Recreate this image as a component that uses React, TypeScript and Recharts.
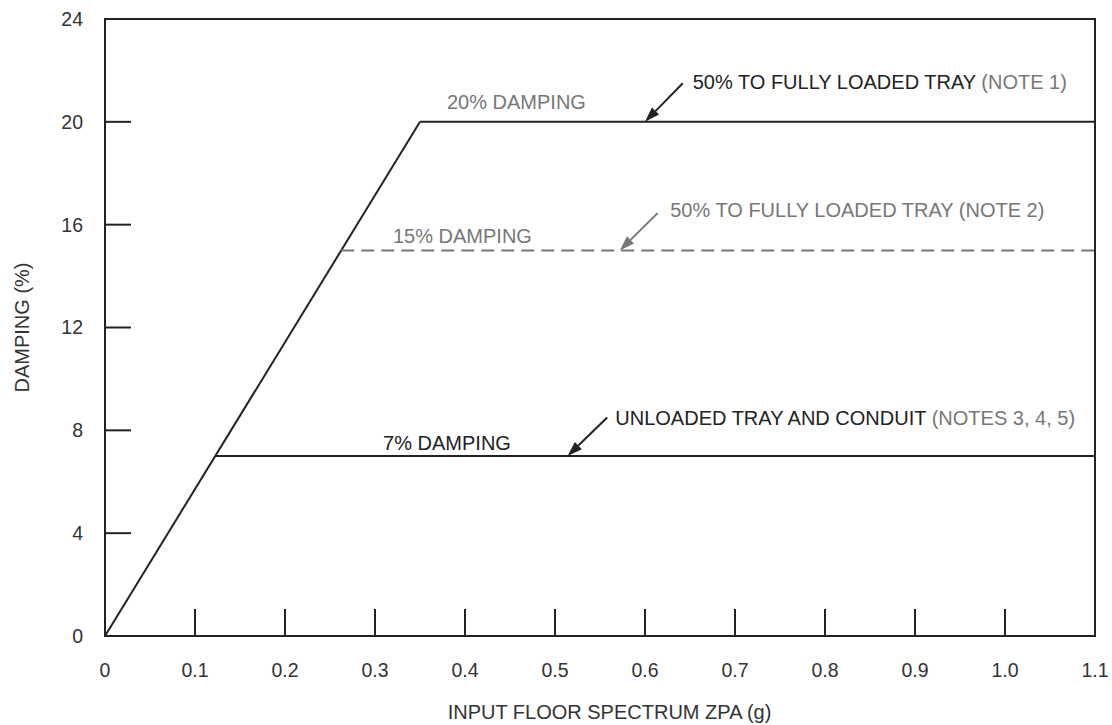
import React from "react";
import {
  LineChart,
  Line,
  XAxis,
  YAxis,
  ReferenceArea,
  ReferenceLine,
  ReferenceDot,
  Label,
} from "recharts";

const FONT = '"Liberation Sans", Arial, Helvetica, sans-serif';
const DARK = "#222";
const GREY = "#777";
const FS = 19.5;
const TITLE_FS = 20;

// axes
const xTicks = [0, 0.1, 0.2, 0.3, 0.4, 0.5, 0.6, 0.7, 0.8, 0.9, 1.0, 1.1];
const xTickLabels = ["0", "0.1", "0.2", "0.3", "0.4", "0.5", "0.6", "0.7", "0.8", "0.9", "1.0", "1.1"];
const yTicks = [0, 4, 8, 12, 16, 20, 24];

// damping curves (ZPA g, damping %)
const ramp = [
  { x: 0, y: 0 },
  { x: 0.35, y: 20 },
];
const damping20 = [
  { x: 0.35, y: 20 },
  { x: 1.1, y: 20 },
];
const damping15 = [
  { x: 0.2625, y: 15 },
  { x: 1.1, y: 15 },
];
const damping7 = [
  { x: 0.1225, y: 7 },
  { x: 1.1, y: 7 },
];

// leader arrows: tail -> tip
const arrow20 = [
  { x: 0.642, y: 21.5 },
  { x: 0.6, y: 20 },
];
const arrow15 = [
  { x: 0.614, y: 16.45 },
  { x: 0.572, y: 15 },
];
const arrow7 = [
  { x: 0.558, y: 8.5 },
  { x: 0.514, y: 7 },
];

const Arrow = (props) => {
  const { x1, y1, x2, y2, color } = props;
  const dx = x2 - x1;
  const dy = y2 - y1;
  const len = Math.hypot(dx, dy) || 1;
  const ux = dx / len;
  const uy = dy / len;
  const hl = 15;
  const hw = 5;
  const bx = x2 - ux * hl;
  const by = y2 - uy * hl;
  const px = -uy * hw;
  const py = ux * hw;
  return (
    <g>
      <line x1={x1} y1={y1} x2={bx} y2={by} stroke={color} strokeWidth={2} />
      <polygon
        points={`${x2},${y2} ${bx + px},${by + py} ${bx - px},${by - py}`}
        fill={color}
      />
    </g>
  );
};

const Note = ({ cx, cy, dy, parts }) => (
  <text x={cx} y={cy + dy} fontSize={TITLE_FS} fontFamily={FONT} xmlSpace="preserve">
    {parts.map(([t, c], i) => (
      <tspan key={i} fill={c}>
        {t}
      </tspan>
    ))}
  </text>
);

const notes = [
  { x: 0.38, y: 20, dy: -13, parts: [["20% DAMPING", GREY]] },
  {
    x: 0.653,
    y: 20,
    dy: -33,
    parts: [
      ["50% TO FULLY LOADED TRAY", DARK],
      [" (NOTE 1)", GREY],
    ],
  },
  { x: 0.32, y: 15, dy: -7, parts: [["15% DAMPING", GREY]] },
  { x: 0.628, y: 15, dy: -33, parts: [["50% TO FULLY LOADED TRAY (NOTE 2)", GREY]] },
  { x: 0.309, y: 7, dy: -6, parts: [["7% DAMPING", DARK]] },
  {
    x: 0.567,
    y: 7,
    dy: -31,
    parts: [
      ["UNLOADED TRAY AND CONDUIT", DARK],
      [" (NOTES 3, 4, 5)", GREY],
    ],
  },
];

const tickStyle = { fill: "#333", fontSize: FS, fontFamily: FONT };

export default function App() {
  return (
    <div style={{ position: "absolute", left: 0, top: 0, background: "#fff" }}>
      <LineChart
        width={1112}
        height={725}
        margin={{ top: 19, right: 17, bottom: 0, left: 0 }}
      >
        <XAxis
          dataKey="x"
          type="number"
          domain={[0, 1.1]}
          ticks={xTicks}
          interval={0}
          allowDuplicatedCategory={false}
          tickFormatter={(v) => xTickLabels[xTicks.indexOf(v)] ?? String(v)}
          height={89}
          tickSize={-27}
          tickMargin={54}
          tick={tickStyle}
          axisLine={{ stroke: DARK, strokeWidth: 2 }}
          tickLine={{ stroke: DARK, strokeWidth: 2 }}
        >
          <Label
            content={({ viewBox }) => (
              <text
                x={viewBox.x + viewBox.width / 2 + 9.5}
                y={viewBox.y + 83}
                textAnchor="middle"
                fontSize={TITLE_FS}
                fontFamily={FONT}
                fill="#333"
              >
                INPUT FLOOR SPECTRUM ZPA (g)
              </text>
            )}
          />
        </XAxis>
        <YAxis
          dataKey="y"
          type="number"
          domain={[0, 24]}
          ticks={yTicks}
          interval={0}
          width={105}
          tickSize={-26}
          tickMargin={48}
          tick={tickStyle}
          axisLine={{ stroke: DARK, strokeWidth: 2 }}
          tickLine={{ stroke: DARK, strokeWidth: 2 }}
        >
          <Label
            content={({ viewBox }) => {
              const cx = viewBox.x + 28.5;
              const cy = viewBox.y + viewBox.height / 2;
              return (
                <text
                  x={cx}
                  y={cy}
                  transform={`rotate(-90, ${cx}, ${cy})`}
                  textAnchor="middle"
                  fontSize={TITLE_FS}
                  fontFamily={FONT}
                  fill="#333"
                >
                  DAMPING (%)
                </text>
              );
            }}
          />
        </YAxis>

        <ReferenceArea
          x1={0}
          x2={1.1}
          y1={0}
          y2={24}
          fill="none"
          fillOpacity={0}
          stroke={DARK}
          strokeWidth={2}
        />

        <Line data={ramp} dataKey="y" stroke={DARK} strokeWidth={2} dot={false} isAnimationActive={false} />
        <Line data={damping20} dataKey="y" stroke={DARK} strokeWidth={2} dot={false} isAnimationActive={false} />
        <Line
          data={damping15}
          dataKey="y"
          stroke={GREY}
          strokeWidth={2}
          strokeDasharray="13 7"
          dot={false}
          isAnimationActive={false}
        />
        <Line data={damping7} dataKey="y" stroke={DARK} strokeWidth={2} dot={false} isAnimationActive={false} />

        <ReferenceLine segment={arrow20} shape={(p) => <Arrow {...p} color={DARK} />} />
        <ReferenceLine segment={arrow15} shape={(p) => <Arrow {...p} color={GREY} />} />
        <ReferenceLine segment={arrow7} shape={(p) => <Arrow {...p} color={DARK} />} />

        {notes.map((n, i) => (
          <ReferenceDot
            key={i}
            x={n.x}
            y={n.y}
            r={0}
            shape={(p) => <Note cx={p.cx} cy={p.cy} dy={n.dy} parts={n.parts} />}
          />
        ))}
      </LineChart>
    </div>
  );
}
